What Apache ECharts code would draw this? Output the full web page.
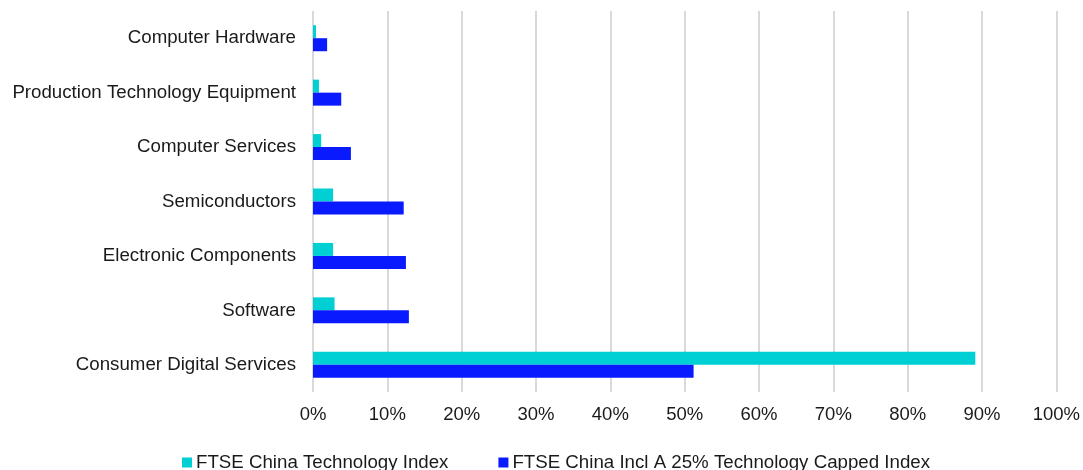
<!DOCTYPE html>
<html>
<head>
<meta charset="utf-8">
<script src="https://cdn.jsdelivr.net/npm/echarts@6/dist/echarts.min.js"></script>
<style>
  html, body { margin: 0; padding: 0; background: #fff; }
  #chart { width: 1083px; height: 470px; }
</style>
</head>
<body>
<div id="chart"></div>
<script>
// categories, top to bottom
const categories = [
  'Computer Hardware',
  'Production Technology Equipment',
  'Computer Services',
  'Semiconductors',
  'Electronic Components',
  'Software',
  'Consumer Digital Services'
];
const techIndex = [0.4, 0.8, 1.1, 2.7, 2.7, 2.9, 89.1];
const cappedIndex = [1.9, 3.8, 5.1, 12.2, 12.5, 12.9, 51.2];
const seriesNames = ['FTSE China Technology Index', 'FTSE China Incl A 25% Technology Capped Index'];

const font = 'Liberation Sans, Arial, sans-serif';

const chart = echarts.init(document.getElementById('chart'));
chart.setOption({
  animation: false,
  color: ['#00CFD3', '#0A1AFF'],
  textStyle: { fontFamily: font },
  grid: { left: 313, right: 26, top: 11, bottom: 78 },
  legend: {
    data: seriesNames,
    left: 177,
    top: 448,
    itemWidth: 10,
    itemHeight: 10,
    itemGap: 50,
    icon: 'rect',
    textStyle: { fontSize: 18.7, color: '#1a1a1a', fontFamily: font, padding: [0, 0, 0, -1] }
  },
  xAxis: {
    type: 'value',
    min: 0,
    max: 100,
    interval: 10,
    axisLine: { show: false },
    axisTick: { show: false },
    axisLabel: { formatter: '{value}%', fontSize: 18.5, color: '#1a1a1a', margin: 13 },
    splitLine: { lineStyle: { color: '#d9d9d9', width: 2 } }
  },
  yAxis: {
    type: 'category',
    inverse: true,
    data: categories,
    axisLine: { show: false },
    axisTick: { show: false },
    axisLabel: { fontSize: 18.7, color: '#1a1a1a', margin: 17, padding: [3, 0, 0, 0] }
  },
  series: [
    {
      name: seriesNames[0],
      type: 'bar',
      data: techIndex,
      barWidth: 13,
      barGap: '0%'
    },
    {
      name: seriesNames[1],
      type: 'bar',
      data: cappedIndex,
      barWidth: 13,
      barGap: '0%'
    }
  ]
});
</script>
</body>
</html>
